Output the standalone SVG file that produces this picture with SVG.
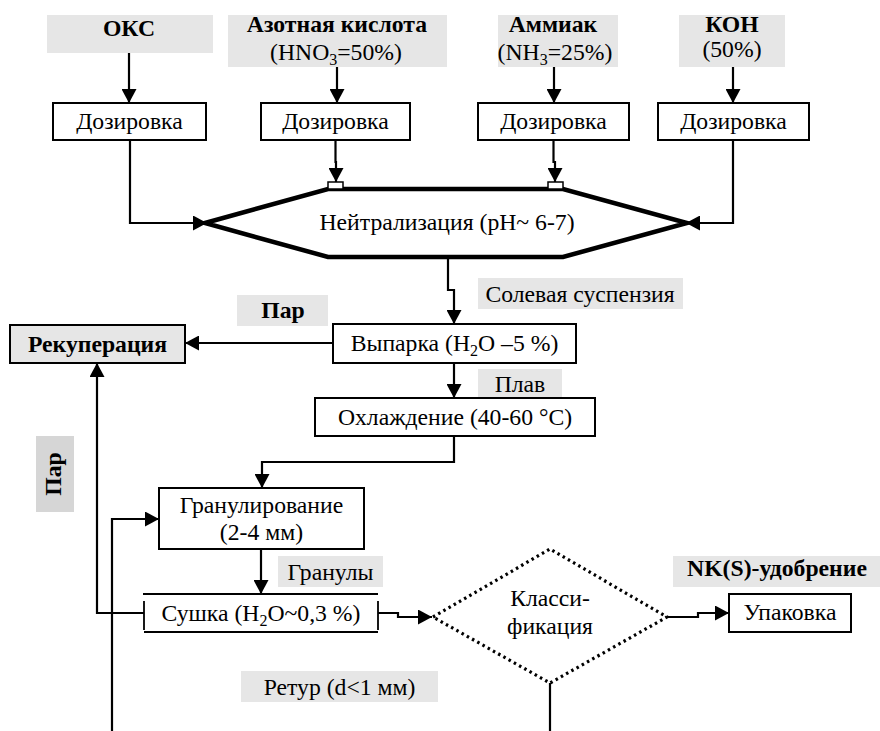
<svg xmlns="http://www.w3.org/2000/svg" width="880" height="731" viewBox="0 0 880 731">
<defs>
<style>
text{font-family:'Liberation Serif','Times New Roman',serif;font-size:23.7px;fill:#000;text-anchor:middle}
.b{font-weight:bold}
.lbl{fill:#e6e6e6;stroke:none}
.box{fill:#fff;stroke:#000;stroke-width:2}
.con{fill:none;stroke:#000;stroke-width:2.2}
.sub{font-size:16px}
</style>
<marker id="ah" markerUnits="userSpaceOnUse" markerWidth="14" markerHeight="15" refX="14" refY="7.5" orient="auto">
<path d="M0,0 L14,7.5 L0,15 z" fill="#000"/>
</marker>
</defs>
<rect width="880" height="731" fill="#fff"/>

<g id="in-oks"><rect class="lbl" x="47" y="15" width="166" height="38"/><text class="b" x="129" y="36">ОКС</text></g>
<g id="in-hno3"><rect class="lbl" x="228" y="15" width="219" height="52"/><text class="b" x="337" y="32">Азотная кислота</text><text x="336" y="60">(HNO<tspan class="sub" dy="5">3</tspan><tspan dy="-5">=50%)</tspan></text></g>
<g id="in-nh3"><rect class="lbl" x="498" y="15" width="120" height="52"/><text class="b" x="553" y="32">Аммиак</text><text x="555" y="60">(NH<tspan class="sub" dy="5">3</tspan><tspan dy="-5">=25%)</tspan></text></g>
<g id="in-koh"><rect class="lbl" x="679" y="15" width="106" height="52"/><text class="b" x="732" y="32">КОН</text><text x="732" y="57">(50%)</text></g>

<g id="doz1"><rect class="box" x="53" y="103" width="153" height="37"/><text x="129.5" y="129">Дозировка</text></g>
<g id="doz2"><rect class="box" x="261" y="103" width="149" height="37"/><text x="335.5" y="129">Дозировка</text></g>
<g id="doz3"><rect class="box" x="478" y="103" width="151" height="37"/><text x="553.5" y="129">Дозировка</text></g>
<g id="doz4"><rect class="box" x="658" y="103" width="151" height="37"/><text x="733.5" y="129">Дозировка</text></g>

<g id="neutral">
<polygon points="205,223 328,189 563,189 687,223 563,257 328,257" fill="#fff" stroke="#000" stroke-width="4.5" stroke-linejoin="miter"/>
<rect x="328" y="182" width="15" height="7" fill="#fff" stroke="#000" stroke-width="1.5"/>
<rect x="548" y="182" width="15" height="7" fill="#fff" stroke="#000" stroke-width="1.5"/>
<text x="447" y="230">Нейтрализация (pH~ 6-7)</text>
</g>

<g id="lbl-susp"><rect class="lbl" x="478" y="278" width="205" height="31"/><text x="580" y="302">Солевая суспензия</text></g>
<g id="lbl-par1"><rect class="lbl" x="237" y="295" width="91" height="31"/><text class="b" x="283" y="318">Пар</text></g>

<g id="recup"><rect x="10" y="325" width="175" height="38" fill="#e6e6e6" stroke="#000" stroke-width="2"/><text class="b" x="97.5" y="352">Рекуперация</text></g>
<g id="vyparka"><rect class="box" x="333" y="324" width="243" height="39"/><text x="454.5" y="351">Выпарка (H<tspan class="sub" dy="5">2</tspan><tspan dy="-5">O –5 %)</tspan></text></g>
<g id="lbl-plav"><rect class="lbl" x="478" y="369" width="84" height="28"/><text x="520" y="392">Плав</text></g>
<g id="cool"><rect class="box" x="315" y="398" width="280" height="38"/><text x="455" y="425">Охлаждение (40-60 °C)</text></g>

<g id="lbl-par2"><rect x="36" y="436" width="38" height="76" fill="#d6d6d6"/><text class="b" transform="translate(61,474) rotate(-90)">Пар</text></g>

<g id="gran"><rect class="box" x="159" y="488" width="205" height="61"/><text x="261.5" y="513">Гранулирование</text><text x="261.5" y="540">(2-4 мм)</text></g>
<g id="lbl-granuly"><rect class="lbl" x="278" y="556" width="105" height="31"/><text x="330.5" y="580">Гранулы</text></g>
<g id="sushka">
<rect x="144" y="594" width="234" height="38" fill="#fff" stroke="none"/>
<path d="M143,594 H378 M144,632 H378 M144,601 V630 M378,601 V630" fill="none" stroke="#000" stroke-width="1.8"/>
<text x="261" y="621">Сушка (H<tspan class="sub" dy="5">2</tspan><tspan dy="-5">O~0,3 %)</tspan></text>
</g>
<g id="classif">
<polygon points="433,617 550,549 667,617 550,683" fill="#fff" stroke="#000" stroke-width="3.2" stroke-dasharray="2.5 3.5"/>
<text x="550" y="606">Класси-</text><text x="550" y="634">фикация</text>
</g>
<g id="lbl-nks"><rect class="lbl" x="673" y="556" width="207" height="31"/><text class="b" x="777" y="576">NK(S)-удобрение</text></g>
<g id="pack"><rect class="box" x="729" y="594" width="122" height="38"/><text x="790" y="620">Упаковка</text></g>
<g id="lbl-retur"><rect class="lbl" x="241" y="671" width="197" height="31"/><text x="339.5" y="695">Ретур (d&lt;1 мм)</text></g>

<g id="connectors">
<path class="con" d="M129,53 V103" marker-end="url(#ah)"/>
<path class="con" d="M337,67 V103" marker-end="url(#ah)"/>
<path class="con" d="M554,67 V103" marker-end="url(#ah)"/>
<path class="con" d="M733,67 V103" marker-end="url(#ah)"/>
<path class="con" d="M130,140 V223 H207" marker-end="url(#ah)"/>
<path class="con" d="M335.5,140 V162 H336 V182" marker-end="url(#ah)"/>
<path class="con" d="M553.5,140 V162 H555 V182" marker-end="url(#ah)"/>
<path class="con" d="M733,140 V223 H686" marker-end="url(#ah)"/>
<path class="con" d="M448,259 V290 H454 V324" marker-end="url(#ah)"/>
<path class="con" d="M333,343 H185" marker-end="url(#ah)"/>
<path class="con" d="M454,363 V398" marker-end="url(#ah)"/>
<path class="con" d="M454,436 V462 H262 V488" marker-end="url(#ah)"/>
<path class="con" d="M261,549 V594" marker-end="url(#ah)"/>
<path class="con" d="M144,613 H97 V363" marker-end="url(#ah)"/>
<path class="con" d="M112,731 V519 H159" marker-end="url(#ah)"/>
<path class="con" d="M378,613 H398 V617 H432" marker-end="url(#ah)"/>
<path class="con" d="M667,617 H698 V613 H729" marker-end="url(#ah)"/>
<path class="con" d="M550,683 V731"/>
</g>
</svg>
